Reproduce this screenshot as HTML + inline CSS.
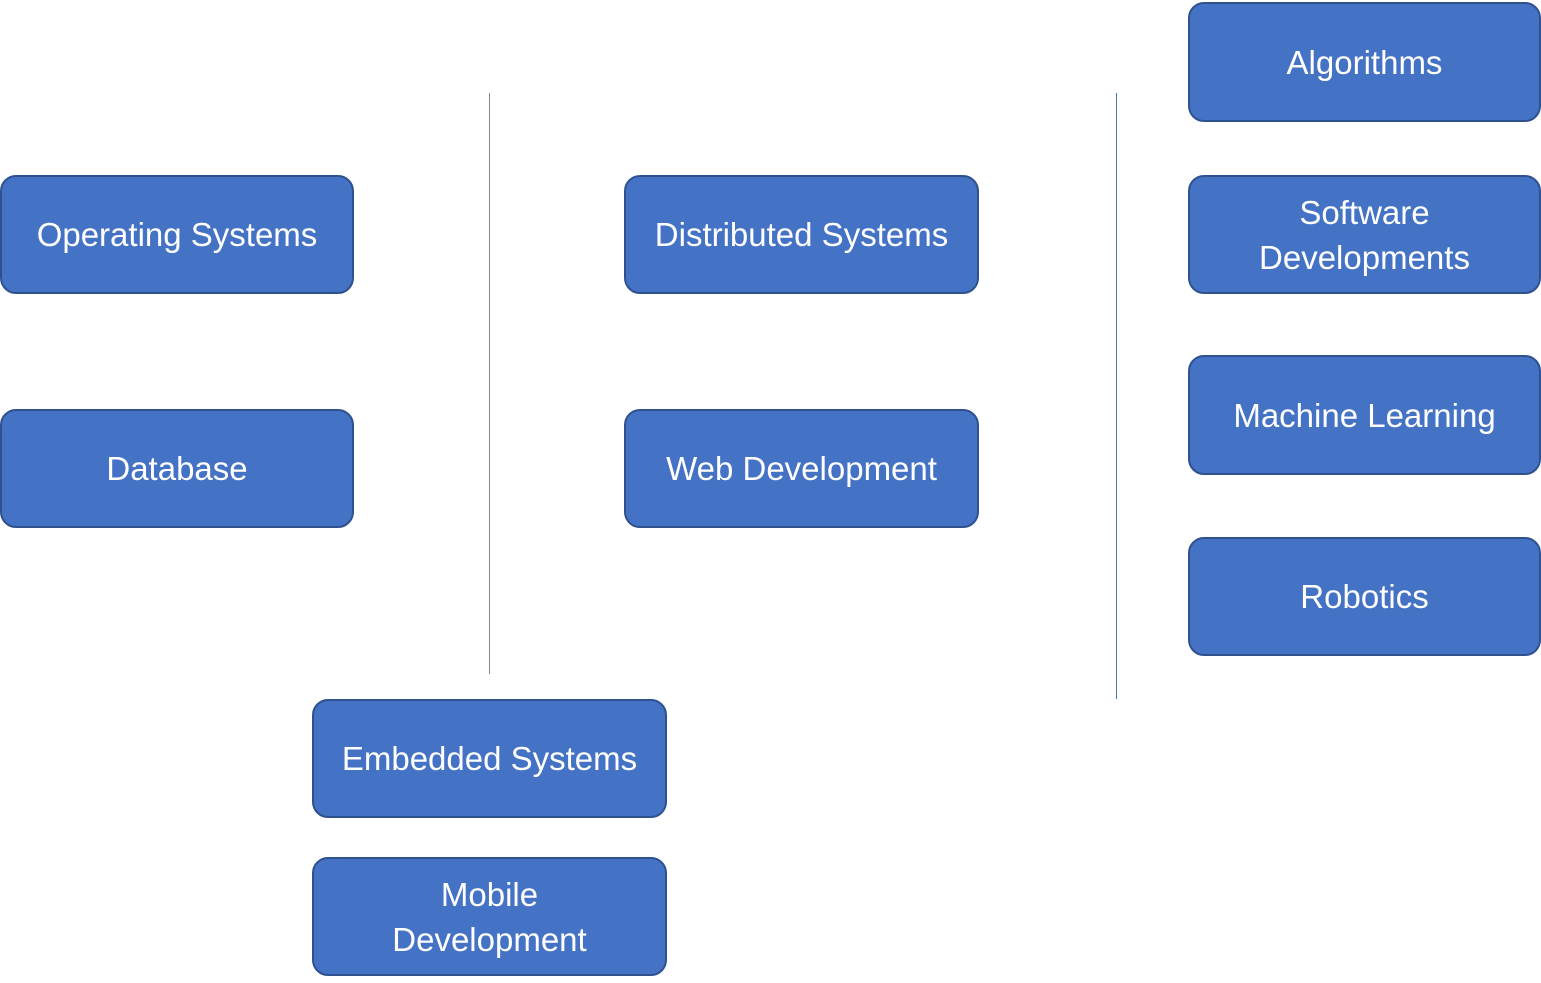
<!DOCTYPE html>
<html><head><meta charset="utf-8"><style>
html,body{margin:0;padding:0;background:#fff;width:1541px;height:983px;overflow:hidden;position:relative;font-family:"Liberation Sans",sans-serif}
.b{position:absolute;box-sizing:border-box;background:#4472C4;border:2px solid #2F528F;border-radius:16px;color:#fff;font-size:33px;display:flex;align-items:center;justify-content:center;text-align:center;line-height:45px}
.l{position:absolute;width:1px}
</style></head><body>
<div class="l" style="left:489px;top:93px;height:581px;background:#7f8a99"></div>
<div class="l" style="left:1116px;top:93px;height:606px;background:#4472C4"></div>
<div class="b" style="left:0px;top:175px;width:354px;height:119px">Operating Systems</div>
<div class="b" style="left:0px;top:409px;width:354px;height:119px">Database</div>
<div class="b" style="left:624px;top:175px;width:355px;height:119px">Distributed Systems</div>
<div class="b" style="left:624px;top:409px;width:355px;height:119px">Web Development</div>
<div class="b" style="left:312px;top:699px;width:355px;height:119px">Embedded Systems</div>
<div class="b" style="left:312px;top:857px;width:355px;height:119px">Mobile<br>Development</div>
<div class="b" style="left:1188px;top:2px;width:353px;height:120px">Algorithms</div>
<div class="b" style="left:1188px;top:175px;width:353px;height:119px">Software<br>Developments</div>
<div class="b" style="left:1188px;top:355px;width:353px;height:120px">Machine Learning</div>
<div class="b" style="left:1188px;top:537px;width:353px;height:119px">Robotics</div>
</body></html>
